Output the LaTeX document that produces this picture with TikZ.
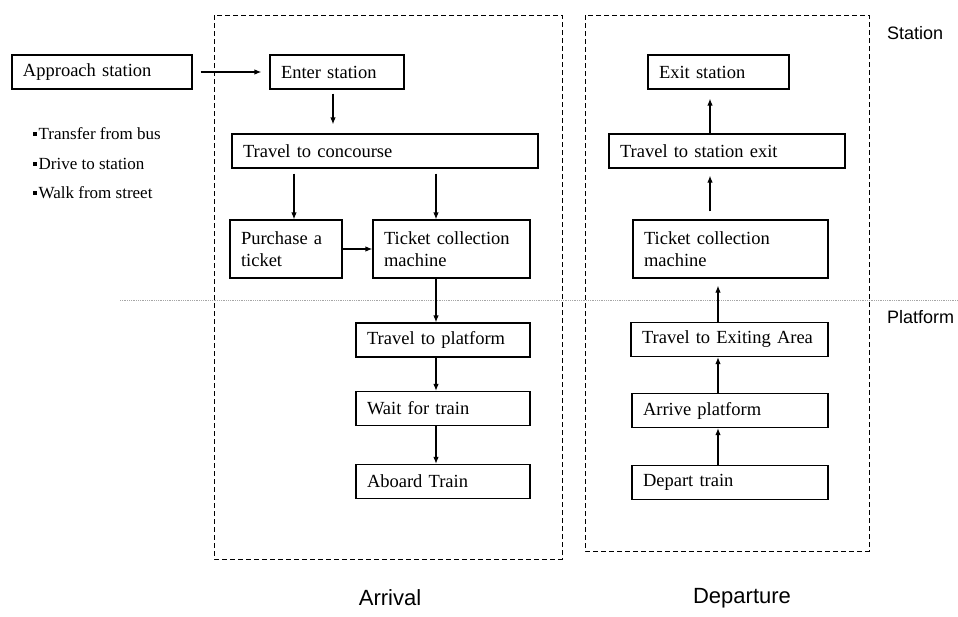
\documentclass[tikz,border=0pt]{standalone}
\usepackage{fontspec}
\setmainfont{Liberation Serif}
\setsansfont{Liberation Sans}
\usepackage{tikz}
\usetikzlibrary{arrows.meta}
\newcommand{\sqmark}{\rule[4pt]{4pt}{4pt}\hspace{1.5pt}}
\tikzstyle{stage} = [rectangle, draw=black, line width=1.2pt, minimum height=34pt, inner xsep=11pt, inner ysep=2pt, align=left, font=\fontsize{18.5}{22}\selectfont]
\tikzstyle{zone} = [draw=black, line width=1pt, dash pattern=on 5pt off 3pt]
\tikzstyle{zonelabel} = [anchor=west, inner sep=0pt, font=\sffamily\fontsize{18}{20}\selectfont]
\tikzstyle{phaselabel} = [inner sep=0pt, font=\sffamily\fontsize{22}{24}\selectfont]
\tikzstyle{means} = [anchor=west, inner sep=0pt, font=\fontsize{17}{19}\selectfont]
\tikzstyle{arrow} = [line width=1.2pt,->,>={Latex[length=7pt,width=5.5pt]}]

\begin{document}
\begin{tikzpicture}[x=1pt, y=-1pt]
            \useasboundingbox (0,0) rectangle (958,616);
            % station / platform split
            \draw [gray!70, line width=0.8pt, densely dotted] (120,300) -- (958,300);
            \draw [zone] (214,15) rectangle (562,559);
            \draw [zone] (585,15) rectangle (869,551);
            \node (stationlbl) [zonelabel] at (887,33) {Station};
            \node (platformlbl) [zonelabel] at (887,317) {Platform};
            \node (arrival) [phaselabel] at (390,598) {Arrival};
            \node (departure) [phaselabel] at (742,598) {Departure};

            \node (approach) [stage, text width=158pt] at (102,72) {Approach station};
            \node (bus) [means] at (33,134) {\sqmark Transfer from bus};
            \node (drive) [means] at (33,164) {\sqmark Drive to station};
            \node (walk) [means] at (33,193) {\sqmark Walk from street};

            \node (enter) [stage, text width=112pt] at (337,72) {Enter station};
            \node (concourse) [stage, text width=284pt] at (385,151) {Travel to concourse};
            \node (purchase) [stage, text width=90pt, minimum height=58pt] at (286,249) {Purchase a\\ticket};
            \node (tcmA) [stage, text width=135pt, minimum height=58pt] at (451.5,249) {Ticket collection\\machine};
            \node (platformA) [stage, text width=152pt] at (443,340) {Travel to platform};
            \node (wait) [stage, text width=152pt] at (443,408.5) {Wait for train};
            \node (aboard) [stage, text width=152pt] at (443,481.5) {Aboard Train};

            \node (exit) [stage, text width=119pt] at (718.5,72) {Exit station};
            \node (stationexit) [stage, text width=214pt] at (727,151) {Travel to station exit};
            \node (tcmD) [stage, text width=173pt, minimum height=58pt] at (730.5,249) {Ticket collection\\machine};
            \node (exitarea) [stage, text width=175pt] at (729.5,339.5) {Travel to Exiting Area};
            \node (arriveplat) [stage, text width=174pt] at (730,410.5) {Arrive platform};
            \node (depart) [stage, text width=174pt] at (730,482.5) {Depart train};

            \coordinate (spineA) at (436,300);
            \coordinate (spineD) at (718,300);
            \coordinate (spineE) at (710,100);

            \draw [arrow, shorten <=8pt, shorten >=8pt] (approach) -- (enter);
            \draw [arrow, shorten <=4pt, shorten >=9pt] ([xshift=-4pt]enter.south) -- ([xshift=-4pt]enter.south |- concourse.north);
            \draw [arrow, shorten <=5pt] ([xshift=8pt]purchase.north |- concourse.south) -- ([xshift=8pt]purchase.north);
            \draw [arrow, shorten <=5pt] (spineA |- concourse.south) -- (spineA |- tcmA.north);
            \draw [arrow] (purchase) -- (tcmA);
            \draw [arrow] (spineA |- tcmA.south) -- (spineA |- platformA.north);
            \draw [arrow] (spineA |- platformA.south) -- (spineA |- wait.north);
            \draw [arrow] (spineA |- wait.south) -- (spineA |- aboard.north);

            \draw [arrow] (spineD |- depart.north) -- (spineD |- arriveplat.south);
            \draw [arrow] (spineD |- arriveplat.north) -- (spineD |- exitarea.south);
            \draw [arrow, shorten >=7pt] (spineD |- exitarea.north) -- (spineD |- tcmD.south);
            \draw [arrow, shorten <=8pt, shorten >=7pt] (spineE |- tcmD.north) -- (spineE |- stationexit.south);
            \draw [arrow, shorten >=9pt] (spineE |- stationexit.north) -- (spineE |- exit.south);
        \end{tikzpicture}
\end{document}
